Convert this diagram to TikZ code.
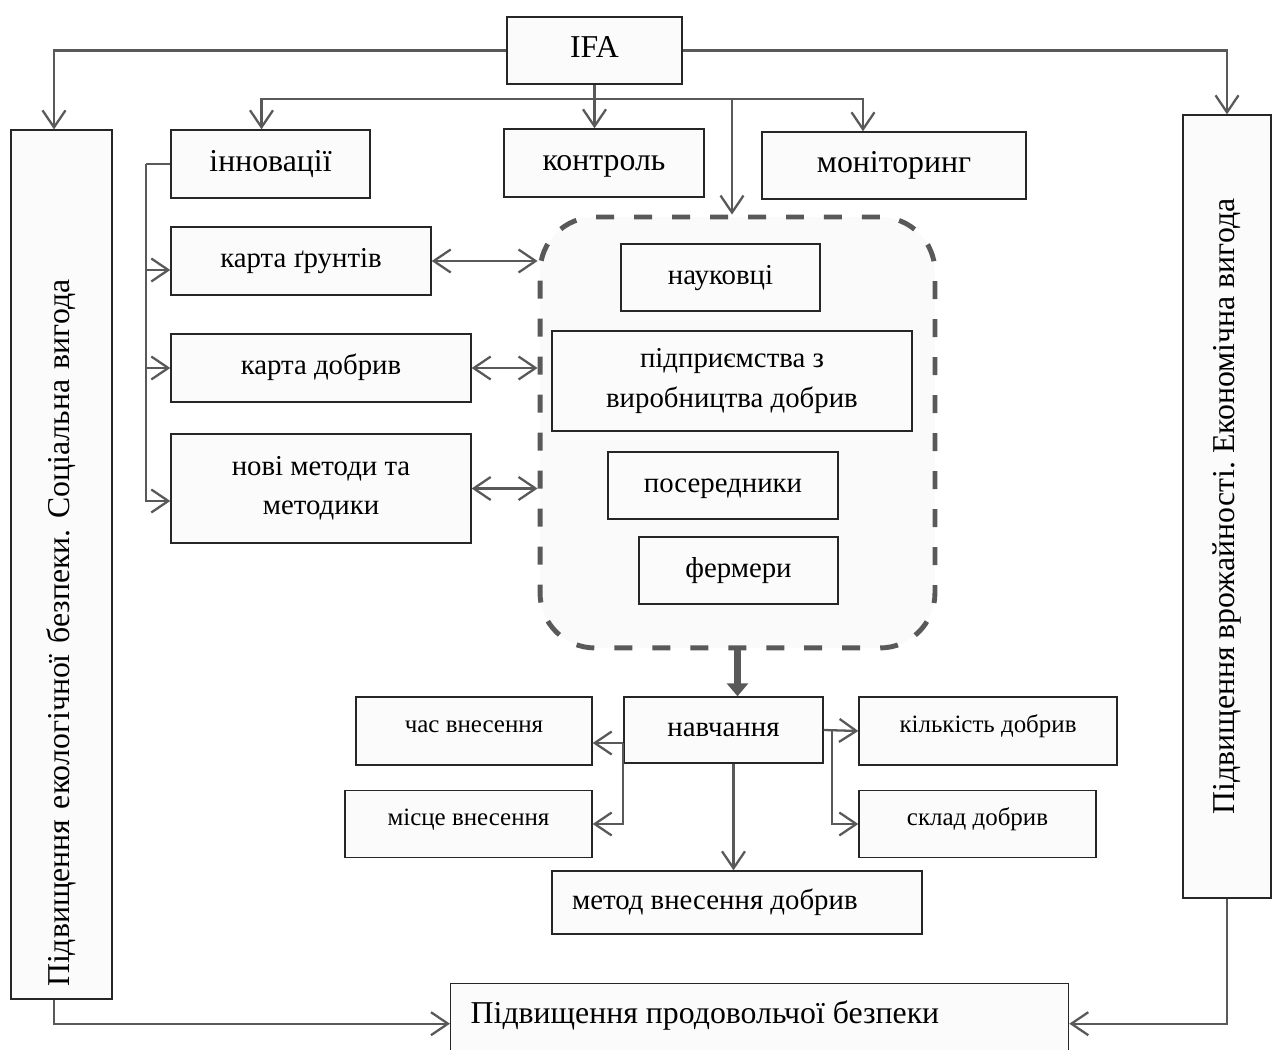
\documentclass[tikz,border=0pt]{standalone}
\usepackage{fontspec}
\setmainfont{Liberation Serif}
\usepackage{tikz}
\usetikzlibrary{arrows.meta}
\frenchspacing
\newcommand{\szL}{\fontsize{18.1}{22.4}\selectfont}
\newcommand{\szM}{\fontsize{16.4}{22.4}\selectfont}
\newcommand{\szS}{\fontsize{14.2}{18}\selectfont}
\definecolor{lin}{HTML}{595959}
\definecolor{bx}{HTML}{FBFBFB}

\begin{document}
\begin{tikzpicture}[x=0.02cm,y=-0.02cm]
\tikzstyle{box}=[draw=black!85, line width=0.8pt, fill=bx, inner sep=2pt]
\tikzstyle{tL}=[box, font=\szL, text height=13pt, text depth=4.7pt]
\tikzstyle{tM}=[box, font=\szM, text height=11.8pt, text depth=4.3pt]
\tikzstyle{tS}=[box, font=\szS, text height=9pt, text depth=7pt]
\tikzstyle{arr}=[draw=lin, line width=1.3pt, -{Straight Barb[length=0.34cm,width=0.46cm]}]
\tikzstyle{darr}=[draw=lin, line width=1.3pt, {Straight Barb[length=0.34cm,width=0.46cm]}-{Straight Barb[length=0.34cm,width=0.46cm]}]
\tikzstyle{grpbox}=[draw=lin, line width=2.8pt, dash pattern=on 0.36cm off 0.4cm, rounded corners=1.1cm, fill=black!2]
\useasboundingbox (0,0) rectangle (1274,1050);
\clip (0,0) rectangle (1274,1050);
%top row
\node[tL, minimum width=3.5cm, minimum height=1.34cm] (ifa) at (594.5,50.5) {IFA};
\node[tL, minimum width=3.98cm, minimum height=1.36cm] (innov) at (270.5,164) {інновації};
\node[tL, minimum width=4cm, minimum height=1.36cm] (ctrl) at (604,163) {контроль};
\node[tL, minimum width=5.28cm, minimum height=1.34cm] (monit) at (894,165.5) {моніторинг};
%side boxes
\node[box, rotate=90, minimum width=17.38cm, minimum height=2.02cm, text width=16.9cm, align=left, font=\szL] (ecol) at (61.5,564.5) {Підвищення екологічної безпеки. Соціальна вигода};
\node[tL, rotate=90, minimum width=15.66cm, minimum height=1.76cm] (econ) at (1227,506.5) {Підвищення врожайності. Економічна вигода};
%maps
\node[tM, minimum width=5.2cm, minimum height=1.36cm] (soil) at (301,261) {карта ґрунтів};
\node[tM, minimum width=6cm, minimum height=1.36cm] (fmap) at (321,368) {карта добрив};
\node[box, minimum width=6cm, minimum height=2.18cm, align=center, font=\szM] (meth) at (321,488.5) {нові методи та\\методики};
%group
\node[grpbox, minimum width=7.9cm, minimum height=8.62cm] (grp) at (737.5,432.5) {};
\node[tM, minimum width=3.98cm, minimum height=1.34cm] (sci) at (720.5,277.5) {науковці};
\node[box, minimum width=7.2cm, minimum height=2cm, align=center, font=\szM] (firm) at (732,381) {підприємства з\\виробництва добрив};
\node[tM, minimum width=4.6cm, minimum height=1.34cm] (mid) at (723,485.5) {посередники};
\node[tM, minimum width=3.98cm, minimum height=1.34cm] (farm) at (738.5,570.5) {фермери};
%learning
\node[tM, minimum width=3.98cm, minimum height=1.32cm] (learn) at (723.5,730) {навчання};
\node[tS, minimum width=4.72cm, minimum height=1.36cm] (time) at (474,731) {час внесення};
\node[tS, minimum width=4.94cm, minimum height=1.34cm] (place) at (468.5,824) {місце внесення};
\node[tS, minimum width=5.16cm, minimum height=1.36cm] (amount) at (988,731) {кількість добрив};
\node[tS, minimum width=4.74cm, minimum height=1.34cm] (comp) at (977.5,824) {склад добрив};
\node[tM, minimum height=1.26cm, inner xsep=0.4cm] (method) at (737,902.5) {\makebox[6.6cm][l]{метод внесення добрив}};
%result
\node[box, anchor=north west, inner xsep=0.4cm, inner ysep=0pt, text height=0.8cm, text depth=1.6cm, font=\szL] (food) at (450,983) {\makebox[11.56cm][l]{Підвищення продовольчої безпеки}};
%from IFA
\draw[arr] (ifa.west) -| (54,0 |- ecol.east);
\draw[arr] (ifa.east) -| (econ.east);
\draw[arr] (ifa.south) -- (ifa.south |- ctrl.north);
\coordinate (hub) at (ifa.south |- 0,99);
\draw[arr] (hub) -| ([xshift=-0.18cm]innov.north);
\draw[arr] (hub) -| ([xshift=-0.62cm]monit.north);
\draw[arr] (hub) -| ([xshift=-0.11cm]grp.north);
%innovations
\draw[draw=lin, line width=1.3pt] (innov.west) -- ++(-24,0) coordinate (spine);
\draw[arr] (spine) |- ([yshift=-0.18cm]soil.west);
\draw[arr] (spine) |- (fmap.west);
\draw[arr] (spine) |- ([yshift=-0.25cm]meth.west);
\draw[darr] (soil.east) -- (soil.east -| grp.west);
\draw[darr] (fmap.east) -- (fmap.east -| grp.west);
\draw[darr] (meth.east) -- (meth.east -| grp.west);
%to learning
\draw[draw=lin, line width=4.5pt, -{Triangle[length=0.26cm,width=0.42cm]}] (grp.south) -- (grp.south |- learn.north);
\coordinate (lw) at ([yshift=-0.26cm]learn.west);
\draw[arr] (lw) -- (lw -| time.east);
\draw[arr] (lw) |- (place.east);
\draw[arr] (learn.east) -- (amount.west);
\draw[arr] ([xshift=0.16cm]learn.east) |- (comp.west);
\coordinate (ls) at ([xshift=0.2cm]learn.south);
\draw[arr] (ls) -- (ls |- method.north);
%result
\draw[arr] (54,0 |- ecol.west) |- (food.base west);
\draw[arr] (econ.west) |- (food.base east);
\end{tikzpicture}
\end{document}
